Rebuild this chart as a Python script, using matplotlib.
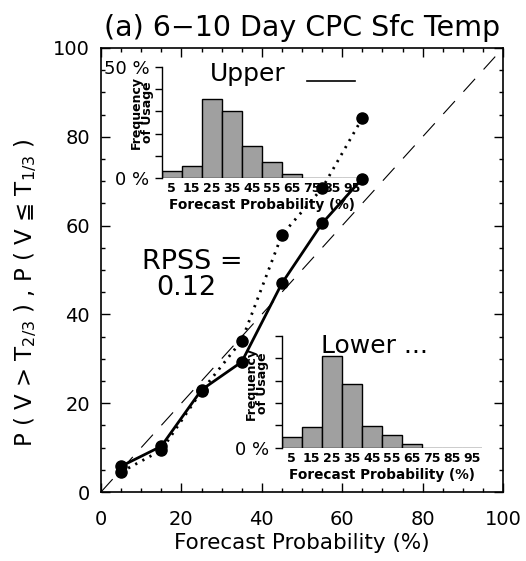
import matplotlib
matplotlib.use("Agg")
import matplotlib.pyplot as plt
import numpy as np

plt.rcParams['font.family'] = ['DejaVu Sans']
plt.rcParams['lines.scale_dashes'] = False

# Data
fcst_prob = [5, 15, 25, 35, 45, 55, 65]
upper_obs = [5.8, 10.3, 23.0, 29.3, 47.0, 60.5, 70.6]
lower_obs = [4.5, 9.4, 22.7, 34.1, 57.9, 68.4, 84.2]
bins = [5, 15, 25, 35, 45, 55, 65, 75, 85, 95]
upper_freq = [3.4, 5.7, 35.5, 30.3, 14.5, 7.5, 1.8, 0, 0, 0]
lower_freq = [4.6, 9.1, 41.0, 28.7, 9.6, 5.7, 1.6, 0, 0, 0]
rpss = 0.12

W, H = 526, 561
fig = plt.figure(figsize=(W / 100, H / 100), dpi=100)

def fx(px):
    return px / W

def fy(py):
    return 1 - py / H

# Main axes
ax = fig.add_axes([fx(101), fy(492), fx(503) - fx(101), fy(48) - fy(492)])
ax.set_xlim(0, 100)
ax.set_ylim(0, 100)
ax.plot([0, 100], [0, 100], color='black', lw=0.8, dashes=(12.5, 9.1))
ax.plot(fcst_prob, lower_obs, color='black', lw=2.0, dashes=(1.6, 4.2),
        marker='o', ms=8, mfc='black', mec='black')
ax.plot(fcst_prob, upper_obs, color='black', lw=2.0, ls='-',
        marker='o', ms=8, mfc='black', mec='black')

ax.set_xticks(np.arange(0, 101, 20))
ax.set_yticks(np.arange(0, 101, 20))
ax.set_xticks(np.arange(0, 101, 5), minor=True)
ax.set_yticks(np.arange(0, 101, 5), minor=True)
ax.tick_params(which='both', direction='in', top=True, right=True, width=1.0,
               labelsize=14)
ax.tick_params(axis='x', which='both', pad=13)
ax.tick_params(axis='y', which='both', pad=8)
ax.tick_params(which='major', length=6.5)
ax.tick_params(which='minor', length=3)
for s in ax.spines.values():
    s.set_linewidth(1.2)
ax.set_xlabel('Forecast Probability (%)', fontsize=15.5, labelpad=3)
ax.set_ylabel(r'P ( V > T$_{2/3}$ ) , P ( V ≦ T$_{1/3}$ )', fontsize=16.5)
ax.yaxis.set_label_coords(-0.155, 0.45)
ax.set_title('(a) 6−10 Day CPC Sfc Temp', fontsize=20.5, pad=9, x=0.5)

fig.text(fx(192), fy(262), 'RPSS =', fontsize=19.5, ha='center', va='center')
fig.text(fx(186), fy(288), f'{rpss:.2f}', fontsize=19.5, ha='center', va='center')

def inset(left_px, base_px, freq, show50, lab_xy):
    a = fig.add_axes([fx(left_px), fy(base_px), 200 / W, 111.7 / H])
    a.bar(bins, freq, width=10, color='#a0a0a0', edgecolor='black', linewidth=1.0)
    a.set_xlim(0, 100)
    a.set_ylim(0, 50)
    a.patch.set_alpha(0)
    for k in ['top', 'right', 'bottom']:
        a.spines[k].set_visible(False)
    a.spines['left'].set_linewidth(1.0)
    a.set_yticks(np.arange(0, 51, 10))
    a.set_yticklabels(['0 %', '', '', '', '', '50 %' if show50 else ''])
    a.tick_params(axis='y', direction='out', length=5, width=1, labelsize=13, pad=4)
    a.set_xticks(bins)
    a.set_xticklabels([str(b) for b in bins], fontsize=9, fontweight='bold')
    a.tick_params(axis='x', length=0, pad=3)
    a.set_xlabel('Forecast Probability (%)', fontsize=9.8, fontweight='bold', labelpad=2)
    fig.text(fx(lab_xy[0]), fy(lab_xy[1]), 'Frequency\nof Usage', fontsize=9,
             fontweight='bold', rotation=90, ha='center', va='center',
             linespacing=0.85)
    return a

inset(161.7, 178.3, upper_freq, True, (141.7, 112))
inset(281.7, 447.7, lower_freq, False, (256.7, 383))

fig.text(fx(210), fy(74), 'Upper', fontsize=18, ha='left', va='center')
fig.add_artist(plt.Line2D([fx(307), fx(355)], [fy(80.7), fy(80.7)],
                          color='black', lw=1.2, transform=fig.transFigure))
fig.text(fx(321), fy(346), 'Lower ...', fontsize=18, ha='left', va='center')

fig.savefig('out.png', dpi=100)
